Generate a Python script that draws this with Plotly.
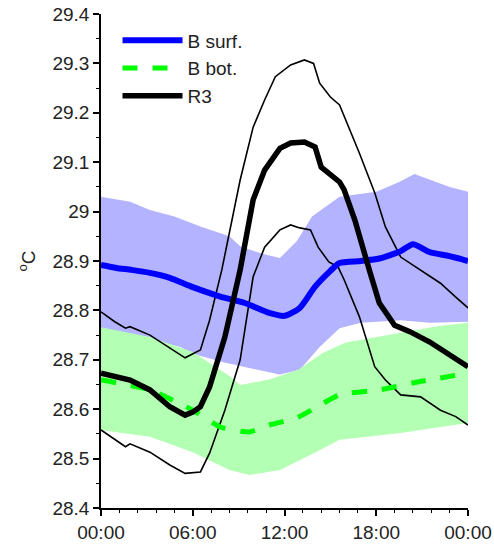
import plotly.graph_objects as go

# Blue surface mean (hours, degC)
bs_x = [0, 1.0, 2.0, 3.2, 4.5, 6.0, 7.8, 9.4, 11.0, 12.0, 13.0, 14.0, 15.0, 15.6, 17.0, 18.2, 19.6, 20.4, 21.5, 22.8, 24.0]
bs_y = [28.892, 28.886, 28.882, 28.876, 28.866, 28.847, 28.828, 28.815, 28.795, 28.789, 28.805, 28.848, 28.880, 28.896, 28.900, 28.905, 28.920, 28.934, 28.918, 28.910, 28.900]

# Blue band upper / lower
bu_x = [0, 1.9, 3.2, 4.8, 6.5, 8.4, 9.1, 10.5, 11.7, 12.8, 13.8, 15.6, 18.0, 19.5, 20.5, 22.8, 24.0]
bu_y = [29.030, 29.020, 29.003, 28.990, 28.970, 28.950, 28.930, 28.915, 28.906, 28.940, 28.990, 29.030, 29.040, 29.060, 29.076, 29.050, 29.040]
bl_x = [0, 2.0, 5.2, 6.0, 8.0, 9.7, 11.7, 13.0, 14.3, 15.6, 17.0, 19.6, 21.5, 24.0]
bl_y = [28.763, 28.750, 28.726, 28.712, 28.695, 28.683, 28.670, 28.680, 28.726, 28.764, 28.775, 28.780, 28.775, 28.777]

# Green bottom mean
gb_x = [0, 3.2, 6.0, 7.8, 9.7, 11.0, 12.9, 14.3, 15.6, 18.2, 20.7, 24.0]
gb_y = [28.659, 28.639, 28.598, 28.564, 28.554, 28.568, 28.584, 28.608, 28.629, 28.639, 28.655, 28.673]

# Green band upper / lower
gu_x = [0, 3.2, 6.0, 8.5, 9.1, 11.0, 12.9, 14.5, 16.0, 19.6, 22.0, 24.0]
gu_y = [28.766, 28.746, 28.716, 28.665, 28.649, 28.660, 28.680, 28.714, 28.735, 28.754, 28.768, 28.775]
gl_x = [0, 3.2, 6.0, 8.4, 9.7, 11.7, 14.3, 15.6, 19.6, 22.2, 24.0]
gl_y = [28.558, 28.544, 28.513, 28.477, 28.467, 28.477, 28.517, 28.538, 28.552, 28.564, 28.572]

# R3 mean
r_x = [0, 1.9, 3.2, 4.5, 5.5, 6.0, 6.5, 7.1, 8.1, 9.1, 9.95, 10.7, 11.7, 12.4, 13.3, 14.0, 14.4, 15.6, 15.9, 16.6, 17.6, 18.2, 19.2, 20.2, 21.5, 22.8, 24.0]
r_y = [28.673, 28.659, 28.639, 28.605, 28.588, 28.594, 28.605, 28.645, 28.746, 28.882, 29.024, 29.084, 29.128, 29.139, 29.141, 29.131, 29.090, 29.060, 29.044, 28.983, 28.876, 28.815, 28.770, 28.757, 28.736, 28.710, 28.686]

# R3 upper / lower envelope
ru_x = [0, 0.9, 1.6, 1.9, 3.2, 4.5, 5.5, 6.5, 7.1, 7.9, 9.1, 9.95, 10.7, 11.4, 12.4, 13.3, 13.9, 14.3, 15.0, 15.6, 16.3, 16.9, 17.9, 18.6, 19.6, 20.9, 22.2, 23.2, 24.0]
ru_y = [28.797, 28.777, 28.764, 28.767, 28.750, 28.724, 28.704, 28.720, 28.780, 28.882, 29.064, 29.171, 29.226, 29.273, 29.297, 29.307, 29.300, 29.260, 29.232, 29.216, 29.165, 29.118, 29.038, 28.969, 28.908, 28.882, 28.855, 28.827, 28.805]
rl_x = [0, 0.9, 1.6, 1.9, 3.2, 4.5, 5.5, 6.5, 7.1, 8.1, 9.1, 9.95, 10.7, 11.7, 12.4, 13.0, 13.7, 14.2, 14.9, 15.5, 15.9, 16.9, 17.9, 18.6, 19.6, 20.9, 22.2, 23.2, 24.0]
rl_y = [28.558, 28.538, 28.524, 28.530, 28.513, 28.487, 28.470, 28.473, 28.511, 28.598, 28.700, 28.868, 28.928, 28.963, 28.973, 28.967, 28.963, 28.928, 28.898, 28.888, 28.862, 28.787, 28.686, 28.659, 28.629, 28.625, 28.598, 28.585, 28.568]

x_tickvals = [0, 6, 12, 18, 24]
x_ticktext = ["00:00", "06:00", "12:00", "18:00", "00:00"]
y_tickvals = [28.4, 28.5, 28.6, 28.7, 28.8, 28.9, 29.0, 29.1, 29.2, 29.3, 29.4]
y_ticktext = ["28.4", "28.5", "28.6", "28.7", "28.8", "28.9", "29", "29.1", "29.2", "29.3", "29.4"]

fig = go.Figure()

# bands
fig.add_trace(go.Scatter(x=bu_x + bl_x[::-1], y=bu_y + bl_y[::-1], fill="toself",
                         fillcolor="#b3b3ff", line=dict(width=0), mode="lines",
                         showlegend=False, hoverinfo="skip"))
fig.add_trace(go.Scatter(x=gu_x + gl_x[::-1], y=gu_y + gl_y[::-1], fill="toself",
                         fillcolor="#b3ffb3", line=dict(width=0), mode="lines",
                         showlegend=False, hoverinfo="skip"))
# R3 envelope
fig.add_trace(go.Scatter(x=ru_x, y=ru_y, mode="lines", line=dict(color="black", width=1.6),
                         showlegend=False))
fig.add_trace(go.Scatter(x=rl_x, y=rl_y, mode="lines", line=dict(color="black", width=1.6),
                         showlegend=False))
# means
fig.add_trace(go.Scatter(x=bs_x, y=bs_y, mode="lines", name="B surf.",
                         line=dict(color="#0000ff", width=6, shape="spline", smoothing=0.6)))
fig.add_trace(go.Scatter(x=gb_x, y=gb_y, mode="lines", name="B bot.",
                         line=dict(color="#00ff00", width=5, dash="dash", shape="spline", smoothing=0.6)))
fig.add_trace(go.Scatter(x=r_x, y=r_y, mode="lines", name="R3",
                         line=dict(color="black", width=5.5)))

fig.update_layout(
    width=494, height=545,
    margin=dict(l=101, r=26, t=14, b=37, autoexpand=False),
    paper_bgcolor="white", plot_bgcolor="white",
    font=dict(family="Liberation Sans, Arial, sans-serif", size=19, color="#222"),
    legend=dict(x=0.045, y=0.985, xanchor="left", yanchor="top", bgcolor="rgba(0,0,0,0)",
                font=dict(size=19), tracegroupgap=0, itemwidth=60),
    showlegend=True,
)
fig.update_xaxes(range=[0, 24], tickvals=x_tickvals, ticktext=x_ticktext, automargin=False,
                 showline=True, linecolor="black", linewidth=1.5, mirror=False,
                 ticks="outside", ticklen=6, tickwidth=1.5, tickcolor="black",
                 showgrid=False, zeroline=False,
                 minor=dict(dtick=1.2, tick0=0, ticks="outside", ticklen=3, tickwidth=1.2, tickcolor="black", showgrid=False))
fig.update_yaxes(range=[28.4, 29.4], tickvals=y_tickvals, ticktext=y_ticktext, automargin=False,
                 showline=True, linecolor="black", linewidth=1.5, mirror=False,
                 ticks="outside", ticklen=6, tickwidth=1.5, tickcolor="black",
                 showgrid=False, zeroline=False,
                 title=dict(text="<sup>o</sup>C", standoff=12, font=dict(size=19)),
                 minor=dict(dtick=0.05, tick0=28.4, ticks="outside", ticklen=3, tickwidth=1.2, tickcolor="black", showgrid=False))

fig.write_html("out.html")
